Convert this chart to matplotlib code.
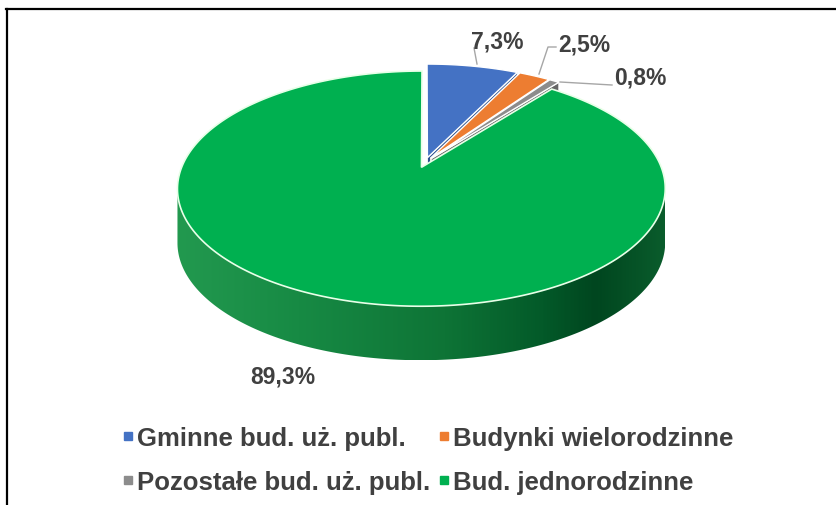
import numpy as np
import matplotlib
matplotlib.use("Agg")
import matplotlib.pyplot as plt
from matplotlib.patches import Polygon
from matplotlib.lines import Line2D
from matplotlib.colors import LinearSegmentedColormap

# ---- data ----
categories = ["Gminne bud. uż. publ.", "Budynki wielorodzinne",
              "Pozostałe bud. uż. publ.", "Bud. jednorodzinne"]
values = [7.3, 2.5, 0.8, 89.3]
labels = ["7,3%", "2,5%", "0,8%", "89,3%"]
colors = ["#4472C4", "#ED7D31", "#8C8C8C", "#00B050"]
side_colors = ["#2F528F", "#B85F22", "#666666", "#0E7535"]

# ---- layout ----
W, Hpx = 837, 506
fig = plt.figure(figsize=(W / 100, Hpx / 100), dpi=100)
ax = fig.add_axes([0, 0, 1, 1])
ax.set_xlim(0, W)
ax.set_ylim(Hpx, 0)
ax.axis("off")

CX, CY = 425.0, 163.5   # projected disc centre
A, B, P = 238.0, 112.0, 0.18
THICK = 54.0
EXPL = 0.045
TXT = "#404040"


def proj(u, v, z=0.0):
    d = 1 - P * v
    return CX + A * u / d, CY + B * v / d + z * THICK


total = sum(values)
angles = np.cumsum([0] + values) / total * 360.0

slices = []
for i in range(len(values)):
    t1, t2 = angles[i], angles[i + 1]
    tm = np.radians((t1 + t2) / 2)
    ou, ov = EXPL * np.sin(tm), -EXPL * np.cos(tm)
    th = np.radians(np.linspace(t1, t2, max(int((t2 - t1) * 3), 4)))
    au, av = ou + np.sin(th), ov - np.cos(th)
    slices.append(dict(t1=t1, t2=t2, ou=ou, ov=ov, th=th, au=au, av=av))


def top_poly(s, z=0.0):
    pts = [proj(s["ou"], s["ov"], z)]
    pts += [proj(u, v, z) for u, v in zip(s["au"], s["av"])]
    return np.array(pts)


# small slices (far side): radial faces + tops
for i in range(3):
    s = slices[i]
    if np.sin(np.radians(s["t2"])) > 0:
        c0 = proj(s["ou"], s["ov"], 0)
        c1 = proj(s["au"][-1], s["av"][-1], 0)
        c2 = proj(s["au"][-1], s["av"][-1], 1)
        c3 = proj(s["ou"], s["ov"], 1)
        ax.add_patch(Polygon([c0, c1, c2, c3], closed=True,
                             facecolor=side_colors[i], edgecolor="white",
                             lw=0.6, zorder=2 + i))
    ax.add_patch(Polygon(top_poly(s), closed=True, facecolor=colors[i],
                         edgecolor="white", lw=1.0, zorder=2 + i))

# big slice: front side with gradient, then top
g = slices[3]
pts = np.array([proj(u, v) for u, v in zip(g["au"], g["av"])])
il, ir = np.argmin(pts[:, 0]), np.argmax(pts[:, 0])
lo, hi = sorted((il, ir))
top_arc = pts[lo:hi + 1]
bot_arc = np.array([proj(u, v, 1) for u, v in
                    zip(g["au"][lo:hi + 1], g["av"][lo:hi + 1])])
side = np.vstack([top_arc, bot_arc[::-1]])
side_patch = Polygon(side, closed=True, facecolor="none", edgecolor="none")
ax.add_patch(side_patch)

xmin, xmax = side[:, 0].min(), side[:, 0].max()
stops = [(0.0, "#22994F"), (0.25, "#178A44"), (0.55, "#0E7436"),
         (0.75, "#035A29"), (0.86, "#00461F"), (1.0, "#0A5C2C")]
cmap = LinearSegmentedColormap.from_list("side", stops)
grad = np.linspace(0, 1, 400)[None, :]
im = ax.imshow(grad, cmap=cmap, aspect="auto",
               extent=(xmin, xmax, side[:, 1].max(), side[:, 1].min()),
               zorder=6, interpolation="bilinear")
im.set_clip_path(side_patch)
ax.set_xlim(0, W)
ax.set_ylim(Hpx, 0)

ax.add_patch(Polygon(top_poly(g), closed=True, facecolor=colors[3],
                     edgecolor="#E8FFE8", lw=1.2, zorder=7))

# ---- data labels with leader lines ----
lc = "#A6A6A6"
ax.plot([477, 474], [65, 49], color=lc, lw=1, zorder=8)
ax.plot([539, 548, 556], [75, 48, 48], color=lc, lw=1, zorder=8)
ax.plot([560, 612], [83, 86], color=lc, lw=1, zorder=8)

lab_pos = [(497, 42), (584, 45), (640, 78), (283, 377)]
for (x, y), t in zip(lab_pos, labels):
    ax.text(x, y, t, ha="center", va="center", fontsize=16.5,
            fontweight="bold", color=TXT, family="Liberation Sans", zorder=9)

# ---- legend ----
order = [0, 2, 1, 3]
handles = [Line2D([], [], marker="s", ls="none", markersize=6,
                  markerfacecolor=colors[k], markeredgecolor=colors[k])
           for k in order]
leg = fig.legend(handles, [categories[k] for k in order], ncol=2,
                 loc="center", bbox_to_anchor=(428 / W, 1 - 461 / Hpx),
                 frameon=False, handlelength=0.45, handletextpad=0.12,
                 columnspacing=0.3, labelspacing=0.8,
                 prop=dict(family="Liberation Sans", weight="bold", size=18.5))
for t in leg.get_texts():
    t.set_color(TXT)

# ---- frame ----
fig.add_artist(Line2D([6 / W, 1], [1 - 10 / Hpx, 1 - 10 / Hpx],
                      color="black", lw=1.6))
fig.add_artist(Line2D([7 / W, 7 / W], [0, 1 - 10 / Hpx],
                      color="black", lw=1.6))

fig.savefig("out.png", dpi=100, facecolor="white")
